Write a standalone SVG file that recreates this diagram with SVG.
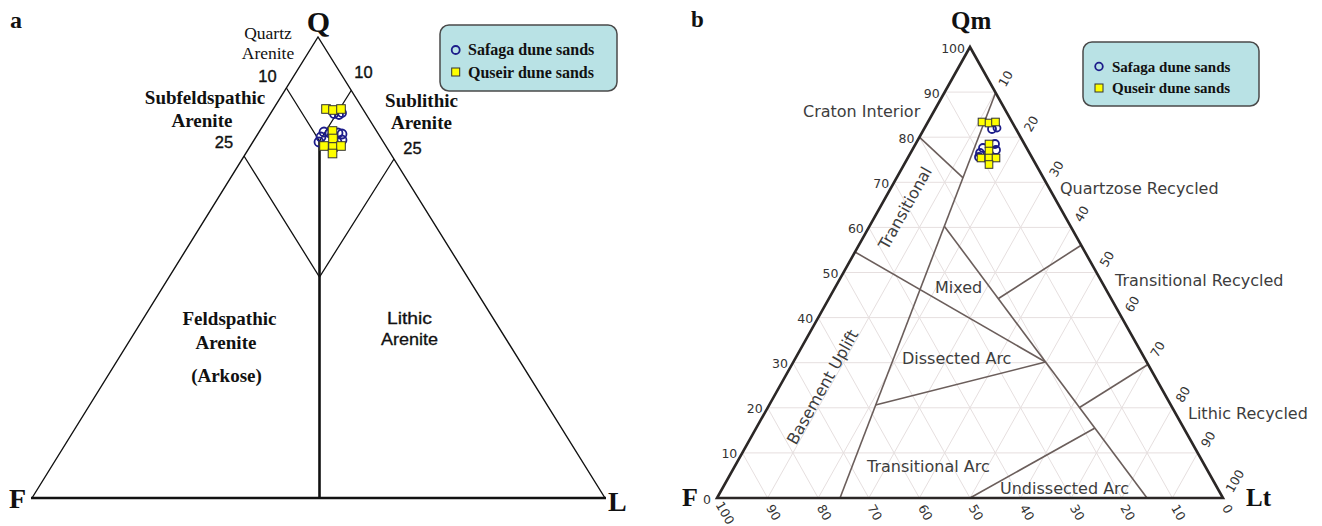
<svg xmlns="http://www.w3.org/2000/svg" width="1322" height="526" viewBox="0 0 1322 526">
<style>
.bg{fill:#fff}
.tri{fill:none;stroke:#111;stroke-width:1.4}
.thick{stroke:#111;stroke-width:2.6;fill:none}
.thin{stroke:#111;stroke-width:1.3;fill:none}
.tb{font-family:"Liberation Serif","Times New Roman",serif;font-weight:bold;fill:#111}
.tr{font-family:"Liberation Serif","Times New Roman",serif;fill:#111}
.sa{font-family:"Liberation Sans",Arial,sans-serif;fill:#111}
.num{font-family:"Liberation Sans",Arial,sans-serif;font-size:16.5px;fill:#111;stroke:#111;stroke-width:0.35}
.grid{stroke:#e6dfdf;stroke-width:1;fill:none}
.edge{fill:none;stroke:#2b2726;stroke-width:2.6;stroke-linejoin:miter}
.field{stroke:#6b5e5b;stroke-width:1.6;fill:none}
.lab{font-family:"DejaVu Sans",sans-serif;font-size:16px;fill:#3d3d3d}
.tick{font-family:"DejaVu Sans",sans-serif;font-size:12.5px;fill:#333}
.legend{fill:#b9e2e5;stroke:#4a4a4a;stroke-width:1.5}
.sf{fill:none;stroke:#1c1c8a;stroke-width:1.8}
.qs{fill:#ffff00;stroke:#333;stroke-width:1}
</style>
<rect class="bg" x="0" y="0" width="1322" height="526"/>

<!-- ===== Panel a ===== -->
<g id="panel-a">
  <text class="tb" x="10" y="28" font-size="24">a</text>
  <g id="a-frame">
    <polyline class="tri" points="32,498 318,37 605,498"/>
    <line class="thick" x1="31" y1="498" x2="606" y2="498"/>
    <line class="thick" x1="319.5" y1="140.5" x2="319.5" y2="498"/>
  </g>
  <g id="a-connectors">
    <polyline class="thin" points="286.4,88 319.5,141 351.5,90"/>
    <polyline class="thin" points="244,156 319.5,277 394,159"/>
  </g>
  <g id="a-vertices">
    <text class="tb" x="318.5" y="32" font-size="30" text-anchor="middle">Q</text>
    <text class="tb" x="9" y="508" font-size="28">F</text>
    <text class="tb" x="608" y="511" font-size="28">L</text>
  </g>
  <g id="a-quartz-arenite">
    <text class="tr" x="268" y="39" font-size="17.5" text-anchor="middle">Quartz</text>
    <text class="tr" x="268" y="59" font-size="17.5" text-anchor="middle">Arenite</text>
    <text class="num" x="267.5" y="82" text-anchor="middle">10</text>
  </g>
  <g id="a-subfeldspathic">
    <text class="tb" x="205" y="104" font-size="19" text-anchor="middle">Subfeldspathic</text>
    <text class="tb" x="202" y="127" font-size="19" text-anchor="middle">Arenite</text>
    <text class="num" x="224" y="148" text-anchor="middle">25</text>
  </g>
  <g id="a-sublithic">
    <text class="num" x="363.5" y="78" text-anchor="middle">10</text>
    <text class="tb" x="421.5" y="107" font-size="19" text-anchor="middle">Sublithic</text>
    <text class="tb" x="421.5" y="129" font-size="19" text-anchor="middle">Arenite</text>
    <text class="num" x="412.5" y="154" text-anchor="middle">25</text>
  </g>
  <g id="a-feldspathic">
    <text class="tb" x="229.5" y="325" font-size="19" text-anchor="middle">Feldspathic</text>
    <text class="tb" x="226" y="349" font-size="19" text-anchor="middle">Arenite</text>
    <text class="tb" x="226.5" y="382" font-size="19" text-anchor="middle">(Arkose)</text>
  </g>
  <g id="a-lithic">
    <text class="sa" x="409.5" y="324" font-size="16" text-anchor="middle" textLength="45" lengthAdjust="spacingAndGlyphs" stroke="#111" stroke-width="0.3">Lithic</text>
    <text class="sa" x="409.5" y="345" font-size="16" text-anchor="middle" textLength="57" lengthAdjust="spacingAndGlyphs" stroke="#111" stroke-width="0.3">Arenite</text>
  </g>
  <g id="a-data">
    <circle class="sf" cx="334" cy="114" r="4"/>
    <circle class="sf" cx="339" cy="115" r="4"/>
    <circle class="sf" cx="342" cy="113" r="4"/>
    <circle class="sf" cx="321" cy="137" r="4.5"/>
    <circle class="sf" cx="324" cy="132" r="4.5"/>
    <circle class="sf" cx="330" cy="133" r="4.5"/>
    <circle class="sf" cx="338" cy="133" r="4.5"/>
    <circle class="sf" cx="342" cy="134" r="4.5"/>
    <circle class="sf" cx="342" cy="140" r="4.5"/>
    <circle class="sf" cx="319" cy="142" r="4.5"/>
    <circle class="sf" cx="337" cy="142" r="4.5"/>
    <rect class="qs" x="321.7" y="104.7" width="8.6" height="8.6"/>
    <rect class="qs" x="328.7" y="105.7" width="8.6" height="8.6"/>
    <rect class="qs" x="336.7" y="104.7" width="8.6" height="8.6"/>
    <rect class="qs" x="328.2" y="126.7" width="8.6" height="8.6"/>
    <rect class="qs" x="328.7" y="134.2" width="8.6" height="8.6"/>
    <rect class="qs" x="319.7" y="141.7" width="8.6" height="8.6"/>
    <rect class="qs" x="328.7" y="142.7" width="8.6" height="8.6"/>
    <rect class="qs" x="336.7" y="141.7" width="8.6" height="8.6"/>
    <rect class="qs" x="328.2" y="149.2" width="8.6" height="8.6"/>
  </g>
  <g id="a-legend">
    <rect class="legend" x="440" y="25" width="177" height="66" rx="9" ry="9"/>
    <circle class="sf" cx="455.7" cy="50" r="4" stroke-width="2"/>
    <text class="tb" x="468" y="55" font-size="16">Safaga dune sands</text>
    <rect class="qs" x="451.7" y="68" width="8" height="8"/>
    <text class="tb" x="468" y="77.5" font-size="16">Quseir dune sands</text>
  </g>
</g>

<!-- ===== Panel b ===== -->
<g id="panel-b">
  <text class="tb" x="691" y="27" font-size="23">b</text>
  <g id="b-grid">
    <line class="grid" x1="742.3" y1="452.9" x2="1197.7" y2="452.9"/>
    <line class="grid" x1="767.6" y1="407.8" x2="1172.4" y2="407.8"/>
    <line class="grid" x1="792.9" y1="362.7" x2="1147.1" y2="362.7"/>
    <line class="grid" x1="818.2" y1="317.6" x2="1121.8" y2="317.6"/>
    <line class="grid" x1="843.5" y1="272.5" x2="1096.5" y2="272.5"/>
    <line class="grid" x1="868.8" y1="227.4" x2="1071.2" y2="227.4"/>
    <line class="grid" x1="894.1" y1="182.3" x2="1045.9" y2="182.3"/>
    <line class="grid" x1="919.4" y1="137.2" x2="1020.6" y2="137.2"/>
    <line class="grid" x1="944.7" y1="92.1" x2="995.3" y2="92.1"/>
    <line class="grid" x1="767.6" y1="498" x2="995.3" y2="92.1"/>
    <line class="grid" x1="818.2" y1="498" x2="1020.6" y2="137.2"/>
    <line class="grid" x1="868.8" y1="498" x2="1045.9" y2="182.3"/>
    <line class="grid" x1="919.4" y1="498" x2="1071.2" y2="227.4"/>
    <line class="grid" x1="970" y1="498" x2="1096.5" y2="272.5"/>
    <line class="grid" x1="1020.6" y1="498" x2="1121.8" y2="317.6"/>
    <line class="grid" x1="1071.2" y1="498" x2="1147.1" y2="362.7"/>
    <line class="grid" x1="1121.8" y1="498" x2="1172.4" y2="407.8"/>
    <line class="grid" x1="1172.4" y1="498" x2="1197.7" y2="452.9"/>
    <line class="grid" x1="1172.4" y1="498" x2="944.7" y2="92.1"/>
    <line class="grid" x1="1121.8" y1="498" x2="919.4" y2="137.2"/>
    <line class="grid" x1="1071.2" y1="498" x2="894.1" y2="182.3"/>
    <line class="grid" x1="1020.6" y1="498" x2="868.8" y2="227.4"/>
    <line class="grid" x1="970" y1="498" x2="843.5" y2="272.5"/>
    <line class="grid" x1="919.4" y1="498" x2="818.2" y2="317.6"/>
    <line class="grid" x1="868.8" y1="498" x2="792.9" y2="362.7"/>
    <line class="grid" x1="818.2" y1="498" x2="767.6" y2="407.8"/>
    <line class="grid" x1="767.6" y1="498" x2="742.3" y2="452.9"/>
  </g>
  <g id="b-connectors">
    <line class="field" x1="995.5" y1="93" x2="840" y2="498"/>
    <line class="field" x1="919.4" y1="137.2" x2="963.1" y2="177.8"/>
    <line class="field" x1="855" y1="252" x2="1045.5" y2="362"/>
    <line class="field" x1="944.5" y1="226.5" x2="1147" y2="498"/>
    <line class="field" x1="875.5" y1="405" x2="1045.5" y2="362"/>
    <line class="field" x1="1148" y1="364.5" x2="1079.5" y2="407.5"/>
    <line class="field" x1="1081.5" y1="245" x2="998.5" y2="298.5"/>
    <line class="field" x1="970" y1="498" x2="1095" y2="428"/>
  </g>
  <polygon class="edge" points="970,47 717,498 1223,498"/>
  <g id="b-vertices">
    <text class="tb" x="951" y="29" font-size="25">Qm</text>
    <text class="tb" x="682" y="506" font-size="26">F</text>
    <text class="tb" x="1246" y="506" font-size="25">Lt</text>
  </g>
  <g id="b-left-ticks" text-anchor="end">
    <text class="tick" x="965" y="52.5">100</text>
    <text class="tick" x="939.7" y="97.6">90</text>
    <text class="tick" x="914.4" y="142.7">80</text>
    <text class="tick" x="889.1" y="187.8">70</text>
    <text class="tick" x="863.8" y="232.9">60</text>
    <text class="tick" x="838.5" y="278">50</text>
    <text class="tick" x="813.2" y="323.1">40</text>
    <text class="tick" x="787.9" y="368.2">30</text>
    <text class="tick" x="762.6" y="413.3">20</text>
    <text class="tick" x="737.3" y="458.4">10</text>
    <text class="tick" x="711" y="503.5">0</text>
  </g>
  <g id="b-right-ticks" text-anchor="middle">
    <text class="tick" transform="translate(1005.8,78.6) rotate(-60)" dy="0.35em">10</text>
    <text class="tick" transform="translate(1031.1,123.7) rotate(-60)" dy="0.35em">20</text>
    <text class="tick" transform="translate(1056.4,168.8) rotate(-60)" dy="0.35em">30</text>
    <text class="tick" transform="translate(1081.7,213.9) rotate(-60)" dy="0.35em">40</text>
    <text class="tick" transform="translate(1107,259) rotate(-60)" dy="0.35em">50</text>
    <text class="tick" transform="translate(1132.3,304.1) rotate(-60)" dy="0.35em">60</text>
    <text class="tick" transform="translate(1157.6,349.2) rotate(-60)" dy="0.35em">70</text>
    <text class="tick" transform="translate(1182.9,394.3) rotate(-60)" dy="0.35em">80</text>
    <text class="tick" transform="translate(1208.2,439.4) rotate(-60)" dy="0.35em">90</text>
    <text class="tick" transform="translate(1235,481) rotate(-60)" dy="0.35em">100</text>
  </g>
  <g id="b-bottom-ticks" text-anchor="middle">
    <text class="tick" transform="translate(725,513) rotate(60)" dy="0.35em">100</text>
    <text class="tick" transform="translate(773.6,512.5) rotate(60)" dy="0.35em">90</text>
    <text class="tick" transform="translate(824.2,512.5) rotate(60)" dy="0.35em">80</text>
    <text class="tick" transform="translate(874.8,512.5) rotate(60)" dy="0.35em">70</text>
    <text class="tick" transform="translate(925.4,512.5) rotate(60)" dy="0.35em">60</text>
    <text class="tick" transform="translate(976,512.5) rotate(60)" dy="0.35em">50</text>
    <text class="tick" transform="translate(1027,512.5) rotate(60)" dy="0.35em">40</text>
    <text class="tick" transform="translate(1077.2,512.5) rotate(60)" dy="0.35em">30</text>
    <text class="tick" transform="translate(1127.8,512.5) rotate(60)" dy="0.35em">20</text>
    <text class="tick" transform="translate(1178.4,512.5) rotate(60)" dy="0.35em">10</text>
    <text class="tick" transform="translate(1227.5,509) rotate(60)" dy="0.35em">0</text>
  </g>
  <g id="b-fields">
    <text class="lab" x="803" y="117">Craton Interior</text>
    <text class="lab" transform="translate(905,208) rotate(-60.7)" text-anchor="middle" dy="0.35em">Transitional</text>
    <text class="lab" transform="translate(822.5,387) rotate(-60.7)" text-anchor="middle" dy="0.35em">Basement Uplift</text>
    <text class="lab" x="935" y="293">Mixed</text>
    <text class="lab" x="902" y="364">Dissected Arc</text>
    <text class="lab" x="867" y="472">Transitional Arc</text>
    <text class="lab" x="1000" y="494">Undissected Arc</text>
    <text class="lab" x="1060" y="194">Quartzose Recycled</text>
    <text class="lab" x="1115" y="286">Transitional Recycled</text>
    <text class="lab" x="1188" y="419">Lithic Recycled</text>
  </g>
  <g id="b-data">
    <circle class="sf" cx="992" cy="129" r="4"/>
    <circle class="sf" cx="997" cy="128" r="3.5"/>
    <circle class="sf" cx="980" cy="153" r="4"/>
    <circle class="sf" cx="983" cy="148" r="4"/>
    <circle class="sf" cx="995" cy="144" r="4"/>
    <circle class="sf" cx="996" cy="150" r="4"/>
    <circle class="sf" cx="979" cy="157" r="4"/>
    <rect class="qs" x="978.2" y="118.2" width="7.6" height="7.6"/>
    <rect class="qs" x="985.2" y="119.2" width="7.6" height="7.6"/>
    <rect class="qs" x="991.7" y="118.2" width="7.6" height="7.6"/>
    <rect class="qs" x="985.2" y="140.2" width="7.6" height="7.6"/>
    <rect class="qs" x="985.2" y="147.2" width="7.6" height="7.6"/>
    <rect class="qs" x="977.2" y="154.2" width="7.6" height="7.6"/>
    <rect class="qs" x="985.2" y="154.2" width="7.6" height="7.6"/>
    <rect class="qs" x="992.2" y="154.2" width="7.6" height="7.6"/>
    <rect class="qs" x="985.2" y="160.7" width="7.6" height="7.6"/>
  </g>
  <g id="b-legend">
    <rect class="legend" x="1083" y="42" width="176" height="64" rx="9" ry="9"/>
    <circle class="sf" cx="1099" cy="66.5" r="3.8" stroke-width="2"/>
    <text class="tb" x="1112" y="71.5" font-size="15">Safaga dune sands</text>
    <rect class="qs" x="1095" y="84" width="8" height="8"/>
    <text class="tb" x="1112" y="93" font-size="15">Quseir dune sands</text>
  </g>
</g>
</svg>
